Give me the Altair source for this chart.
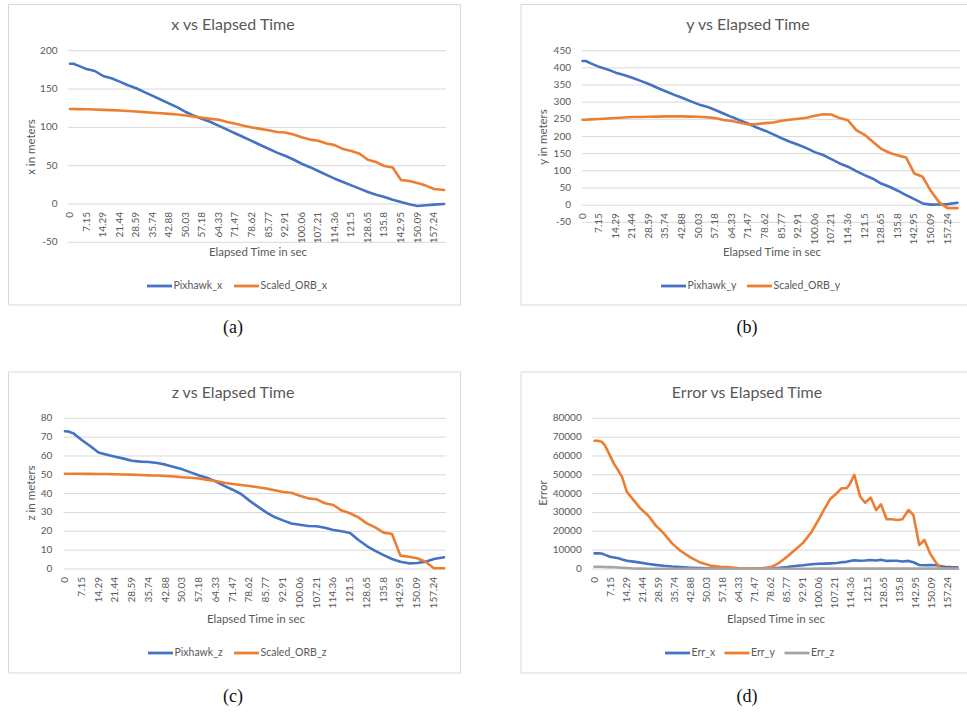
import altair as alt
import pandas as pd

# ---------------- data ----------------
# sample times (s) for the x, y and z position traces
time_s = [0, 1.43, 3.57, 7.15, 10.72, 14.29, 17.86, 21.44, 25.01, 28.59, 32.16,
          35.74, 39.31, 42.88, 46.46, 50.03, 53.6, 57.18, 60.75, 64.33, 67.9,
          71.47, 75.05, 78.62, 82.19, 85.77, 89.34, 92.91, 96.49, 100.06, 103.63,
          107.21, 110.78, 114.36, 117.93, 121.5, 125.08, 128.65, 132.22, 135.8,
          139.37, 142.95, 146.52, 150.09, 153.67, 157.24, 161.53]

pixhawk_x = [183, 183, 180.5, 176, 173.5, 167, 164, 159.7, 155, 151, 146, 141,
             136, 131, 126, 120, 115, 111, 107, 102, 97, 92, 87, 82, 77, 72, 67,
             63, 58, 52.5, 48, 43, 38, 33, 28.6, 24.3, 20, 15.6, 12, 9, 5.6, 2.6,
             -0.4, -2.6, -1.7, -0.9, 0]
scaled_orb_x = [124, 124, 123.8, 123.6, 123.2, 122.8, 122.4, 122, 121.3, 120.6,
                119.8, 119, 118.3, 117.6, 116.7, 115.4, 114, 112.4, 111, 109.8,
                107, 104.6, 102, 99.8, 98, 96.3, 94, 93.3, 90.7, 87.2, 84, 82.4,
                79, 76.8, 71.6, 69, 65.5, 57.7, 54.7, 49.5, 47.7, 31.2, 30, 27.3,
                24, 19.5, 18.2]

pixhawk_y = [420, 420, 413, 403, 395.5, 386, 379, 371, 362, 353, 342, 332, 322,
             313, 303, 293.5, 287, 277, 267, 256.6, 247, 237, 226, 217, 206, 195,
             184.6, 176, 166, 154.5, 146, 134, 121.5, 112, 99, 87.5, 77, 63, 53.5,
             42, 29, 17.5, 5, 1.5, 2, 3, 7]
scaled_orb_y = [249, 249, 250, 251, 252.5, 254, 255.5, 256.6, 257, 257.6, 258,
                258.5, 258.5, 258.5, 258, 257.6, 256, 253.6, 248, 245, 240, 235,
                236, 239, 241, 246, 249, 251.7, 254.6, 260.5, 265, 264, 253.6, 247,
                218.6, 205, 184.6, 164, 152.6, 145, 139, 92, 82.6, 41, 8, -8.7, -8.7]

pixhawk_z = [73.1, 73, 72, 68.5, 65.3, 61.8, 60.7, 59.6, 58.6, 57.5, 57, 56.8,
             56.3, 55.4, 54.2, 52.9, 51.3, 49.6, 48.3, 46.4, 44.1, 42.1, 39.8, 36.3,
             33.1, 30.1, 27.6, 25.8, 24.2, 23.5, 22.8, 22.7, 21.9, 20.7, 20, 19.1,
             15.4, 12.2, 9.6, 7.4, 5.3, 3.9, 3, 3.2, 3.9, 5.3, 6.2]
scaled_orb_z = [50.6, 50.6, 50.6, 50.6, 50.5, 50.4, 50.4, 50.3, 50.2, 50.1, 49.9,
                49.7, 49.6, 49.4, 49.1, 48.7, 48.4, 48, 47.3, 46.7, 45.8, 45.1,
                44.6, 44.1, 43.4, 42.7, 41.8, 40.9, 40.5, 38.9, 37.5, 37, 34.9, 34,
                31, 29.6, 27.4, 24.2, 22.1, 19.3, 18.6, 7.1, 6.5, 5.7, 3.9, 0.4, 0.4]

# sample times (s) for the error traces
time_err = [0, 1.43, 3.2, 4.7, 6.9, 8.7, 10.72, 12.2, 14.4, 17.4, 20.4, 24.1,
            27.1, 30.8, 34.5, 38.2, 42.7, 47.1, 51.5, 56, 60.5, 65, 68.6, 71.5,
            75, 78.6, 82.2, 85.8, 89.3, 92.9, 96.5, 100.1, 102.4, 104.8, 107.8,
            110, 112.2, 113.7, 115.6, 118.2, 120.4, 122.9, 125.3, 127.5, 130,
            132.3, 134.5, 137, 139.7, 141.9, 144.5, 146.8, 149.3, 152, 153.8, 156,
            158.8, 161.53]

err_x = [8300, 8300, 8200, 7500, 6500, 6100, 5700, 5100, 4400, 3900, 3400, 2700,
         2200, 1700, 1300, 1000, 700, 450, 300, 200, 150, 100, 100, 200, 300, 500,
         700, 1100, 1600, 2000, 2500, 2750, 2850, 3000, 3200, 3600, 3800, 4200,
         4600, 4400, 4500, 4800, 4500, 4900, 4300, 4400, 4400, 4000, 4300, 3600,
         2100, 2000, 2100, 2000, 1600, 1200, 1000, 900]
err_y = [68100, 68100, 67600, 65500, 60200, 55800, 52000, 49000, 41000, 36600,
         32200, 28100, 23300, 18900, 13600, 9700, 6200, 3400, 1800, 1200, 900,
         300, 200, 300, 500, 1000, 3300, 6600, 10200, 14000, 19500, 27000, 32000,
         37000, 40200, 42900, 42900, 45200, 50000, 38500, 35200, 37900, 31300,
         34300, 26400, 26400, 26000, 26400, 31300, 28700, 12700, 15400, 8300,
         3300, 700, 300, 300, 300]
err_z = [1200, 1200, 1200, 1100, 1000, 900, 800, 700, 500, 300, 200, 150, 150,
         150, 100, 100, 100, 100, 100, 100, 100, 100, 100, 100, 100, 100, 100,
         150, 150, 150, 150, 200, 200, 200, 200, 200, 200, 200, 200, 200, 200,
         200, 200, 200, 200, 200, 200, 200, 200, 200, 200, 200, 200, 200, 200,
         150, 150, 150]

# category labels printed along the time axis
time_labels = ["0", "7.15", "14.29", "21.44", "28.59", "35.74", "42.88", "50.03",
               "57.18", "64.33", "71.47", "78.62", "85.77", "92.91", "100.06",
               "107.21", "114.36", "121.5", "128.65", "135.8", "142.95", "150.09",
               "157.24"]

ticks_x = [-50, 0, 50, 100, 150, 200]
ticks_y = [-50, 0, 50, 100, 150, 200, 250, 300, 350, 400, 450]
ticks_z = [0, 10, 20, 30, 40, 50, 60, 70, 80]
ticks_err = [0, 10000, 20000, 30000, 40000, 50000, 60000, 70000, 80000]

# ---------------- styling ----------------
FONT = "Lato"
TXT = "#595959"
GRID = "#d9d9d9"
BLUE = "#4472C4"
ORANGE = "#ED7D31"
GREY = "#A5A5A5"
T_END = 161.53

# geometry of the four panels (pixels on the page)
panels = [
    dict(frame=(8.5, 460.5, 4.5, 305), grid=(68, 446), xr=(70, 444),
         yr=(242.3, 50.7), ticks=ticks_x, ylab_x=57.5,
         title="x vs Elapsed Time", title_xy=(233, 25),
         ytitle="x in meters", ytitle_xy=(32, 147),
         xtitle_xy=(258, 253),
         series=[("Pixhawk_x", time_s, pixhawk_x, BLUE),
                 ("Scaled_ORB_x", time_s, scaled_orb_x, ORANGE)],
         legend_y=286, legend_x=[147, 234],
         caption="(a)", caption_xy=(233, 328)),
    dict(frame=(521, 980, 4.5, 305), grid=(582, 960), xr=(582.5, 957.5),
         yr=(222.3, 50.7), ticks=ticks_y, ylab_x=571,
         title="y vs Elapsed Time", title_xy=(748, 25),
         ytitle="y in meters", ytitle_xy=(544, 137),
         xtitle_xy=(772, 253),
         series=[("Pixhawk_y", time_s, pixhawk_y, BLUE),
                 ("Scaled_ORB_y", time_s, scaled_orb_y, ORANGE)],
         legend_y=286, legend_x=[661, 747],
         caption="(b)", caption_xy=(747, 328)),
    dict(frame=(8.5, 460.5, 372, 673), grid=(63.3, 446), xr=(65, 444),
         yr=(569, 418.3), ticks=ticks_z, ylab_x=52.3,
         title="z vs Elapsed Time", title_xy=(233, 393),
         ytitle="z in meters", ytitle_xy=(32, 493),
         xtitle_xy=(256, 620),
         series=[("Pixhawk_z", time_s, pixhawk_z, BLUE),
                 ("Scaled_ORB_z", time_s, scaled_orb_z, ORANGE)],
         legend_y=653, legend_x=[148, 234],
         caption="(c)", caption_xy=(233, 697)),
    dict(frame=(521, 980, 372, 673), grid=(592, 960), xr=(594.5, 957.5),
         yr=(569, 418.3), ticks=ticks_err, ylab_x=581.7,
         title="Error vs Elapsed Time", title_xy=(747, 393),
         ytitle="Error", ytitle_xy=(544, 493),
         xtitle_xy=(776, 620),
         series=[("Err_x", time_err, err_x, BLUE),
                 ("Err_y", time_err, err_y, ORANGE),
                 ("Err_z", time_err, err_z, GREY)],
         legend_y=653, legend_x=[665, 724.5, 784.5],
         caption="(d)", caption_xy=(747, 697)),
]

ONE = pd.DataFrame({"k": [0]})


def text_at(txt, x, y, size, color=TXT, font=FONT, angle=0, align="center"):
    return alt.Chart(ONE).mark_text(
        text=txt, font=font, fontSize=size, color=color, angle=angle,
        align=align, baseline="middle"
    ).encode(x=alt.value(x), y=alt.value(y))


def build_panel(p):
    ymin, ymax = p["ticks"][0], p["ticks"][-1]
    xs = alt.Scale(domain=[0, T_END], range=list(p["xr"]), nice=False, zero=False)
    ys = alt.Scale(domain=[ymin, ymax], range=list(p["yr"]), nice=False, zero=False)
    fx0, fx1, fy0, fy1 = p["frame"]
    gx0, gx1 = p["grid"]
    layers = []

    # chart-area border
    layers.append(alt.Chart(ONE).mark_rect(fill="white", stroke=GRID, strokeWidth=1)
                  .encode(x=alt.value(fx0), x2=alt.value(fx1),
                          y=alt.value(fy0), y2=alt.value(fy1)))

    # horizontal gridlines and value labels
    tick_df = pd.DataFrame({"v": p["ticks"], "lab": [str(v) for v in p["ticks"]]})
    layers.append(alt.Chart(tick_df).mark_rule(color=GRID, strokeWidth=1).encode(
        y=alt.Y("v:Q", scale=ys, axis=None),
        x=alt.value(gx0), x2=alt.value(gx1)))
    layers.append(alt.Chart(tick_df).mark_text(
        align="right", baseline="middle", font=FONT, fontSize=10, color=TXT
    ).encode(y=alt.Y("v:Q", scale=ys, axis=None), x=alt.value(p["ylab_x"]),
             text="lab:N"))

    # rotated time labels hanging below the zero line
    lab_df = pd.DataFrame({"t": [float(s) for s in time_labels],
                           "lab": time_labels,
                           "zero": [0] * len(time_labels)})
    layers.append(alt.Chart(lab_df).mark_text(
        angle=270, align="right", baseline="middle", dx=-8,
        font=FONT, fontSize=10, color=TXT
    ).encode(x=alt.X("t:Q", scale=xs, axis=None),
             y=alt.Y("zero:Q", scale=ys, axis=None),
             text="lab:N"))

    # data series
    for name, ts, vals, col in p["series"]:
        df = pd.DataFrame({"t": ts, "v": vals})
        layers.append(alt.Chart(df).mark_line(
            color=col, strokeWidth=2.6, strokeJoin="round", strokeCap="round"
        ).encode(x=alt.X("t:Q", scale=xs, axis=None),
                 y=alt.Y("v:Q", scale=ys, axis=None)))

    # titles
    layers.append(text_at(p["title"], *p["title_xy"], 16))
    layers.append(text_at(p["ytitle"], *p["ytitle_xy"], 11.5, angle=270))
    layers.append(text_at("Elapsed Time in sec", *p["xtitle_xy"], 11.5))

    # legend
    ly = p["legend_y"]
    for (name, _, _, col), lx in zip(p["series"], p["legend_x"]):
        layers.append(alt.Chart(ONE).mark_rule(color=col, strokeWidth=2.8).encode(
            x=alt.value(lx), x2=alt.value(lx + 25), y=alt.value(ly)))
        layers.append(text_at(name, lx + 26.5, ly, 10.5, align="left"))

    # sub-figure caption
    layers.append(text_at(p["caption"], *p["caption_xy"], 18, color="#111111",
                          font="Liberation Serif"))
    return layers


all_layers = []
for p in panels:
    all_layers.extend(build_panel(p))

chart = (
    alt.layer(*all_layers)
    .resolve_scale(x="independent", y="independent")
    .properties(width=967, height=713, padding=0, background="white",
                autosize=alt.AutoSizeParams(type="none"))
    .configure_view(stroke=None)
)

chart.save("out.html", embed_options={"renderer": "svg", "actions": False})
